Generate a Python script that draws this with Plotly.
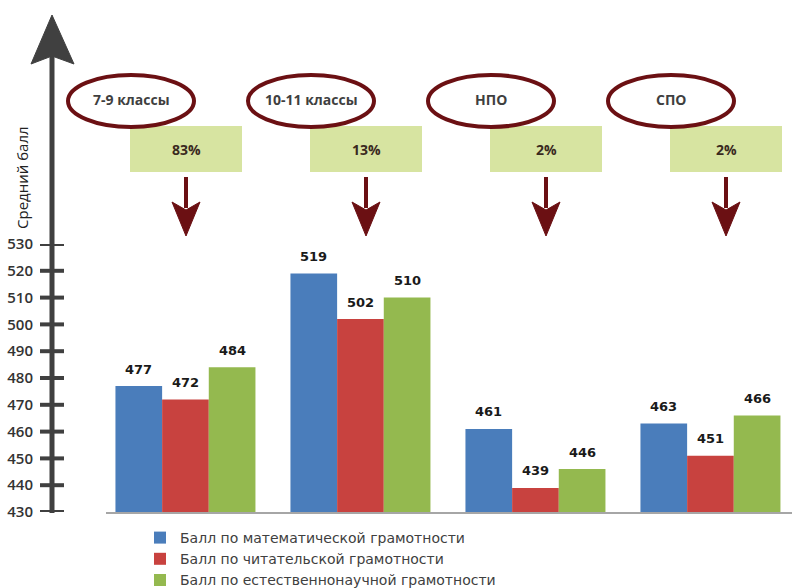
import plotly.graph_objects as go

# Data
groups = ["7-9 классы", "10-11 классы", "НПО", "СПО"]
shares = ["83%", "13%", "2%", "2%"]
series_names = [
    "Балл по математической грамотности",
    "Балл по читательской грамотности",
    "Балл по естественнонаучной грамотности",
]
math_scores = [477, 519, 461, 463]
reading_scores = [472, 502, 439, 451]
science_scores = [484, 510, 446, 466]
y_ticks = [430, 440, 450, 460, 470, 480, 490, 500, 510, 520, 530]

series_values = [math_scores, reading_scores, science_scores]
series_colors = ["#4a7dbb", "#c8423f", "#94b94f"]

W, H = 792, 588
def px(x):
    return x / W
def py(y):
    return 1 - y / H

AXIS = "#404040"
DARKRED = "#6b1013"
BOX = "#d7e4a1"

fig = go.Figure()
xs = list(range(len(groups)))
for name, vals, col in zip(series_names, series_values, series_colors):
    fig.add_trace(go.Bar(
        x=xs, y=vals, name=name,
        marker=dict(color=col, line=dict(width=0)),
        cliponaxis=False,
    ))

shapes = []
annotations = []

def label(x, y, text, font, **kw):
    d = dict(x=x, y=y, xref="paper", yref="paper", text=text, showarrow=False,
             xanchor="center", yanchor="middle", font=font)
    d.update(kw)
    annotations.append(d)

# value labels above the bars
n = len(series_values)
w = 0.8 / n
for k, vals in enumerate(series_values):
    off = (k - (n - 1) / 2) * w
    for i, v in enumerate(vals):
        annotations.append(dict(
            x=i + off, y=v, xref="x", yref="y", text=str(v), showarrow=False,
            xanchor="center", yanchor="middle", yshift=17,
            font=dict(family="DejaVu Sans", size=13, color="#1a1a1a", weight="bold"),
        ))

# y axis drawn as a thick arrow
ax_x = 52
shapes.append(dict(type="line", xref="paper", yref="paper",
                   x0=px(ax_x), x1=px(ax_x), y0=py(513), y1=py(50),
                   line=dict(color=AXIS, width=5), layer="above"))
shapes.append(dict(type="path", xref="paper", yref="paper",
                   path=f"M {px(ax_x)},{py(15)} L {px(74)},{py(64)} L {px(ax_x)},{py(56)} L {px(31)},{py(64)} Z",
                   fillcolor=AXIS, line=dict(color=AXIS, width=1), layer="above"))
for t in y_ticks:
    shapes.append(dict(type="line", xref="paper", yref="y",
                       x0=px(40), x1=px(64), y0=t, y1=t,
                       line=dict(color=AXIS, width=4), layer="above"))

label(px(22), py(178), "Средний балл",
      dict(family="Open Sans", size=15, color="#222222"), textangle=-90)

# group headers: ellipse, share box and down arrow
for i, (g, s) in enumerate(zip(groups, shares)):
    bx = 186 + 180 * i
    ex = bx - 55
    shapes.append(dict(type="rect", xref="paper", yref="paper",
                       x0=px(bx - 56), x1=px(bx + 56), y0=py(172), y1=py(126),
                       fillcolor=BOX, line=dict(width=0), layer="above"))
    shapes.append(dict(type="circle", xref="paper", yref="paper",
                       x0=px(ex - 63), x1=px(ex + 63), y0=py(127), y1=py(75),
                       fillcolor="white", line=dict(color=DARKRED, width=4), layer="above"))
    shapes.append(dict(type="line", xref="paper", yref="paper",
                       x0=px(bx), x1=px(bx), y0=py(177), y1=py(208),
                       line=dict(color=DARKRED, width=4), layer="above"))
    shapes.append(dict(type="path", xref="paper", yref="paper",
                       path=f"M {px(bx)},{py(236)} L {px(bx - 14)},{py(202)} L {px(bx)},{py(210)} L {px(bx + 14)},{py(202)} Z",
                       fillcolor=DARKRED, line=dict(color=DARKRED, width=1), layer="above"))
    label(px(ex), py(99), g, dict(family="Open Sans", size=14, color="#3f3f3f", weight="bold"))
    label(px(bx), py(150), s, dict(family="Open Sans", size=14, color="#3a2a1e", weight="bold"))

fig.update_layout(
    width=W, height=H,
    margin=dict(l=0, r=0, t=0, b=0, autoexpand=False),
    paper_bgcolor="white", plot_bgcolor="white",
    barmode="group", bargap=0.2, bargroupgap=0,
    showlegend=True,
    legend=dict(
        x=px(140), y=py(522), xanchor="left", yanchor="top",
        font=dict(family="DejaVu Sans", size=14, color="#404040"),
        tracegroupgap=0, bgcolor="rgba(0,0,0,0)",
    ),
    xaxis=dict(
        domain=[px(106), 1], range=[-0.454, 3.466], automargin=False,
        showline=True, linecolor="#a6a6a6", linewidth=1.5,
        showticklabels=False, ticks="", showgrid=False, zeroline=False,
    ),
    yaxis=dict(
        domain=[py(512), py(244)], range=[430, 530], automargin=False,
        anchor="free", position=px(ax_x),
        tickvals=y_ticks, ticks="", showline=False, showgrid=False, zeroline=False,
        ticklabelstandoff=19,
        tickfont=dict(family="Open Sans", size=15, color="#333333", weight=600),
    ),
    shapes=shapes,
    annotations=annotations,
)

fig.write_html("out.html")
